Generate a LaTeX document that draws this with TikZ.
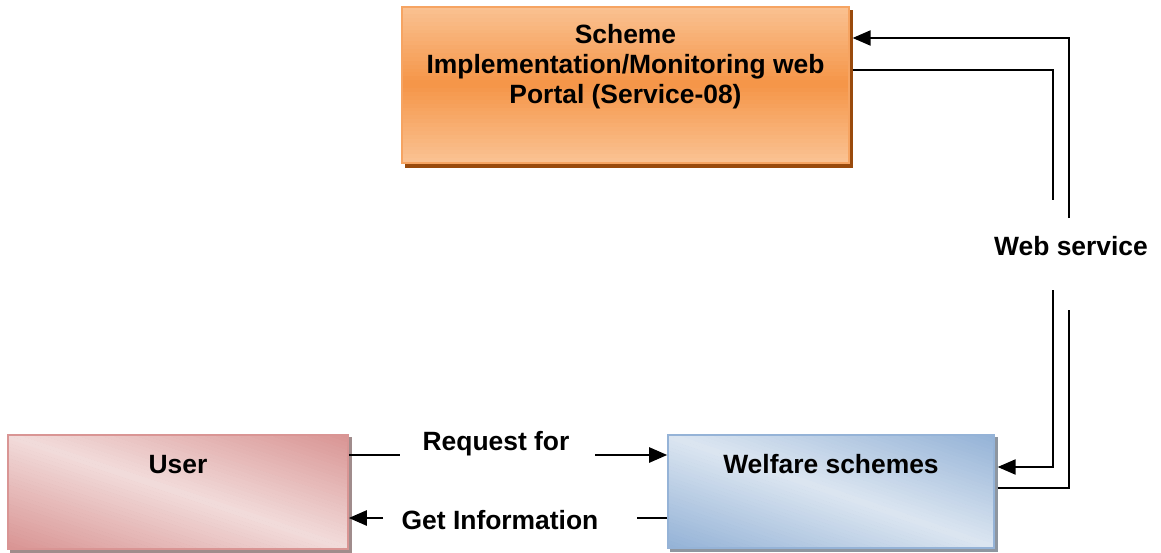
\documentclass[tikz,border=0pt]{standalone}
\usepackage{fontspec}
\setmainfont{Liberation Sans}
\usetikzlibrary{arrows.meta,backgrounds}

\definecolor{portallight}{HTML}{FAC191}
\definecolor{portalmid}{HTML}{F59547}
\definecolor{portalline}{HTML}{F6A462}
\definecolor{portalshadow}{HTML}{994A0C}
\definecolor{userdark}{HTML}{D99594}
\definecolor{userlight}{HTML}{F2DCDB}
\definecolor{usershadow}{HTML}{A08C8C}
\definecolor{welfdark}{HTML}{95B3D7}
\definecolor{welflight}{HTML}{DCE6F1}
\definecolor{welfshadow}{HTML}{8E96A0}

\begin{document}
\begin{tikzpicture}[
    box/.style={draw, line width=1.2pt, inner sep=0pt},
    lbl/.style={font=\bfseries\fontsize{18.8}{21.6}\selectfont, inner sep=0pt, align=center},
    >={Triangle[length=0.45cm,width=0.38cm]}]
    \useasboundingbox (0,0) rectangle (29.025,-13.825);

    % boxes
    \node [box, draw=portalline, minimum width=11.175cm, minimum height=3.9cm] at (15.6375,-2.125) (p) {};
    \node [box, draw=userdark, minimum width=8.5cm, minimum height=2.85cm] at (4.45,-12.3) (u) {};
    \node [box, draw=welfdark, minimum width=8.15cm, minimum height=2.825cm] at (20.775,-12.29) (w) {};

    % shadows and fills
    \begin{scope}[on background layer]
        \fill [portalshadow] ([shift={(0.09,-0.1)}]p.south west) rectangle ([shift={(0.09,-0.1)}]p.north east);
        \fill [usershadow] ([shift={(0.07,-0.07)}]u.south west) rectangle ([shift={(0.07,-0.07)}]u.north east);
        \fill [welfshadow] ([shift={(0.07,-0.07)}]w.south west) rectangle ([shift={(0.07,-0.07)}]w.north east);
        \begin{scope}
            \clip (p.south west) rectangle (p.north east);
            \foreach \i in {0,...,39} {
                \pgfmathsetmacro\t{abs(\i-19.5)/19.5*100}
                \fill [portallight!\t!portalmid] ([yshift=-\i*0.0975cm]p.north west) rectangle ++(11.175,-0.11);
            }
        \end{scope}
        \begin{scope}
            \clip (u.south west) rectangle (u.north east);
            \begin{scope}[shift={(u.center)}, rotate=-18.5]
                \foreach \i in {0,...,59} {
                    \pgfmathsetmacro\t{abs(\i-29.5)/29.5*100}
                    \fill [userdark!\t!userlight] (-5,2.7-\i*0.09) rectangle ++(10,-0.1);
                }
            \end{scope}
        \end{scope}
        \begin{scope}
            \clip (w.south west) rectangle (w.north east);
            \begin{scope}[shift={(w.center)}, rotate=-19]
                \foreach \i in {0,...,59} {
                    \pgfmathsetmacro\t{abs(\i-29.5)/29.5*100}
                    \fill [welfdark!\t!welflight] (-5,2.65-\i*0.0883) rectangle ++(10,-0.1);
                }
            \end{scope}
        \end{scope}
    \end{scope}

    % texts
    \node [lbl] at (15.6375,-1.67) (pt) {Scheme\\Implementation/Monitoring web\\Portal (Service-08)};
    \node [lbl, anchor=base] at (4.45,-11.84) (ut) {User};
    \node [lbl, anchor=base] at (20.775,-11.84) (wt) {Welfare schemes};
    \node [lbl] at (12.4,-11.1) (req) {Request for};
    \node [lbl] at (12.5,-13.0) (info) {Get Information};
    \node [lbl] at (26.775,-6.15) (ws) {Web service};

    % free ends
    \coordinate (ra) at (10.0,-11.375);
    \coordinate (rb) at (14.875,-11.375);
    \coordinate (ia) at (15.925,-12.95);
    \coordinate (ib) at (9.575,-12.95);
    \coordinate (s1) at (26.325,-5.0);
    \coordinate (s2) at (26.325,-7.25);
    \coordinate (s3) at (26.725,-7.75);
    \coordinate (s4) at (26.725,-5.45);

    % user <-> welfare
    \path [draw, line width=1.4pt] (u.east |- ra) -- (ra);
    \path [draw, line width=1.4pt, ->] (rb) -- (w.west |- rb);
    \path [draw, line width=1.4pt] (w.west |- ia) -- (ia);
    \path [draw, line width=1.4pt, ->] (ib) -- (u.east |- ib);

    % web service
    \path [draw, line width=1.1pt] ([xshift=0.07cm]p.east |- 0,-1.75) -| (s1);
    \path [draw, line width=1.1pt, ->] (s2) |- ([xshift=0.07cm]w.east |- 0,-11.675);
    \path [draw, line width=1.1pt] ([xshift=0.07cm]w.east |- 0,-12.2) -| (s3);
    \path [draw, line width=1.1pt, ->] (s4) |- ([xshift=0.07cm]p.east |- 0,-0.95);
\end{tikzpicture}
\end{document}
